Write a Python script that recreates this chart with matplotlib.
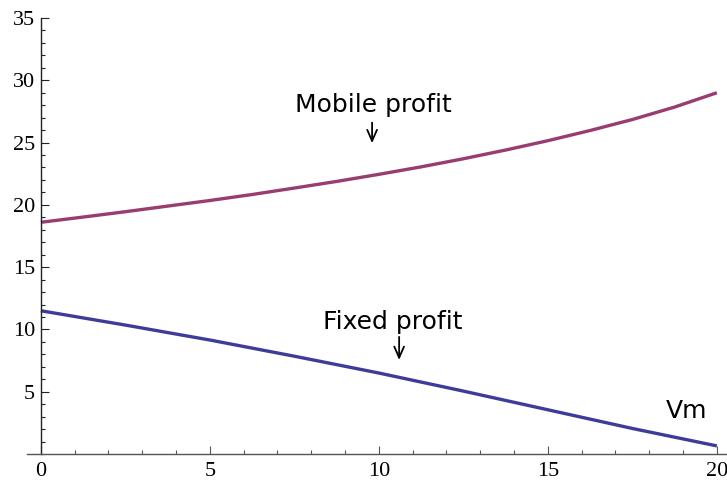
import matplotlib.pyplot as plt
import numpy as np
from matplotlib.ticker import MultipleLocator

# profit curves against Vm
vm_mobile = [0, 1.25, 2.5, 3.75, 5, 6.25, 7.5, 8.75, 10,
             11.25, 12.5, 13.75, 15, 16.25, 17.5, 18.75, 20]
mobile_profit = [18.6, 19.02, 19.45, 19.9, 20.35, 20.83, 21.35, 21.88, 22.45,
                 23.05, 23.7, 24.4, 25.15, 25.97, 26.85, 27.85, 29.0]
vm_fixed = [0, 2.5, 5, 7.5, 10, 12.5, 15, 17.5, 20]
fixed_profit = [11.5, 10.35, 9.15, 7.85, 6.5, 5.05, 3.55, 2.05, 0.65]

mobile_color = '#993d70'
fixed_color = '#3d3d99'

fig = plt.figure(figsize=(7.27, 4.84), dpi=100)
ax = fig.add_axes([27 / 727, 30 / 484, 700 / 727, 436 / 484])

ax.plot(vm_mobile, mobile_profit, color=mobile_color, lw=2.4, solid_capstyle='butt', clip_on=False)
ax.plot(vm_fixed, fixed_profit, color=fixed_color, lw=2.4, solid_capstyle='butt', clip_on=False)

ax.set_xlim(-0.41, 20.3)
ax.set_ylim(0, 35)

# axes cross at the origin, mathematica style
ax.spines['top'].set_visible(False)
ax.spines['right'].set_visible(False)
ax.spines['left'].set_position(('data', 0))
ax.spines['left'].set_color('#222222')
ax.spines['bottom'].set_color('#555555')
ax.spines['left'].set_linewidth(1.0)
ax.spines['bottom'].set_linewidth(1.0)

ax.xaxis.set_major_locator(MultipleLocator(5))
ax.xaxis.set_minor_locator(MultipleLocator(1))
ax.set_yticks([5, 10, 15, 20, 25, 30, 35])
ax.yaxis.set_minor_locator(MultipleLocator(1))

ax.tick_params(which='both', direction='in', width=0.8)
ax.tick_params(axis='x', which='both', colors='#555555', labelcolor='black')
ax.tick_params(axis='y', which='both', colors='#222222', labelcolor='black')
ax.tick_params(which='major', length=5.5)
ax.tick_params(which='minor', length=3.1)
ax.tick_params(axis='x', which='major', pad=6)
ax.tick_params(axis='y', which='major', pad=4)

for lbl in ax.get_xticklabels() + ax.get_yticklabels():
    lbl.set_fontfamily('Liberation Serif')
    lbl.set_fontsize(16)

txt = dict(family='DejaVu Sans', fontsize=18, ha='center', va='baseline')
ax.text(9.85, 27.45, 'Mobile profit', **txt)
ax.text(10.42, 10.0, 'Fixed profit', **txt)
ax.text(19.1, 2.92, 'Vm', **txt)

arrow = dict(arrowstyle='->,head_length=0.8,head_width=0.35', color='black', lw=1.3,
             shrinkA=0, shrinkB=0)
ax.annotate('', xy=(9.8, 24.95), xytext=(9.8, 26.6), arrowprops=arrow)
ax.annotate('', xy=(10.6, 7.55), xytext=(10.6, 9.4), arrowprops=arrow)

fig.savefig('out.png', dpi=100, facecolor='white')
